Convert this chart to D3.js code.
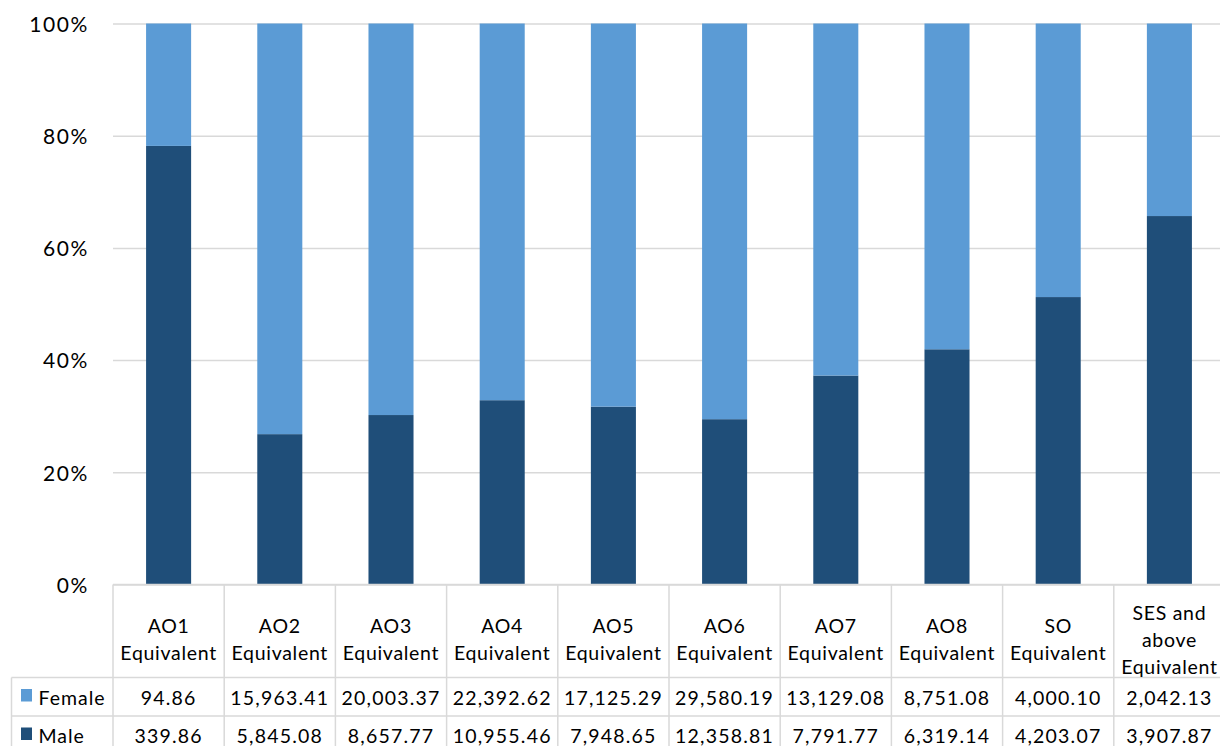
<!DOCTYPE html>
<html>
<head>
<meta charset="utf-8">
<script src="https://cdn.jsdelivr.net/npm/d3@7"></script>
<style>
  html, body { margin: 0; padding: 0; background: #fff; }
  svg { display: block; font-family: Lato, "Open Sans", sans-serif; }
</style>
</head>
<body>
<svg id="chart" width="1220" height="746"></svg>
<script>
const categories = [
  ["AO1", "Equivalent"], ["AO2", "Equivalent"], ["AO3", "Equivalent"],
  ["AO4", "Equivalent"], ["AO5", "Equivalent"], ["AO6", "Equivalent"],
  ["AO7", "Equivalent"], ["AO8", "Equivalent"], ["SO", "Equivalent"],
  ["SES and", "above", "Equivalent"]
];
const female = [94.86, 15963.41, 20003.37, 22392.62, 17125.29, 29580.19, 13129.08, 8751.08, 4000.10, 2042.13];
const male   = [339.86, 5845.08, 8657.77, 10955.46, 7948.65, 12358.81, 7791.77, 6319.14, 4203.07, 3907.87];
const seriesNames = ["Female", "Male"];
const yTicks = [0, 0.2, 0.4, 0.6, 0.8, 1.0];

(function () {
const colors = { Female: "#5B9BD5", Male: "#1F4E79" };
const gridColor = "#D9D9D9";

const svg = d3.select("#chart");
const pLeft = 113, pRight = 1225, pTop = 23.5, pBottom = 584.5;

const ids = categories.map((c, i) => i);
const x = d3.scaleBand().domain(ids).range([pLeft, pRight]).padding(0);
const y = d3.scaleLinear().domain([0, 1]).range([pBottom, pTop]);
const barW = x.bandwidth() * 0.405;

// gridlines + y labels
const yAxis = d3.axisLeft(y).tickValues(yTicks).tickSize(-(pRight - pLeft)).tickFormat(d3.format(".0%"));
const ga = svg.append("g").attr("transform", `translate(${pLeft},0)`).call(yAxis);
ga.select(".domain").remove();
ga.selectAll(".tick line").attr("stroke", gridColor).attr("stroke-width", 1.5);
ga.selectAll(".tick text").attr("x", -24).attr("dy", "0.37em")
  .attr("font-size", 21).attr("letter-spacing", 1.6).attr("fill", "#000")
  .attr("font-family", "Lato, 'Open Sans', sans-serif");

// stacked data (100%)
const rows = ids.map(i => ({ i, Female: female[i], Male: male[i] }));
const stack = d3.stack().keys(["Male", "Female"]).offset(d3.stackOffsetExpand);
const stacked = stack(rows);

svg.append("g").selectAll("g").data(stacked).join("g")
  .attr("fill", d => colors[d.key])
  .selectAll("rect").data(d => d).join("rect")
  .attr("x", d => x(d.data.i) + (x.bandwidth() - barW) / 2)
  .attr("width", barW)
  .attr("y", d => y(d[1]))
  .attr("height", d => y(d[0]) - y(d[1]));

// data table
const rowTop = 677.5, rowMid = 716, rowBot = 760, tableLeft = 11.5;
const tg = svg.append("g").attr("stroke", gridColor).attr("stroke-width", 1.5).attr("fill", "none");
tg.append("line").attr("x1", pLeft).attr("x2", pRight).attr("y1", pBottom).attr("y2", pBottom);
[rowTop, rowMid].forEach(yy => tg.append("line").attr("x1", tableLeft).attr("x2", pRight).attr("y1", yy).attr("y2", yy));
tg.append("line").attr("x1", tableLeft).attr("x2", tableLeft).attr("y1", rowTop).attr("y2", rowBot);
ids.forEach(i => {
  const xx = x(i);
  tg.append("line").attr("x1", xx).attr("x2", xx).attr("y1", pBottom).attr("y2", rowBot);
});
tg.append("line").attr("x1", pRight).attr("x2", pRight).attr("y1", pBottom).attr("y2", rowBot);

// header labels
const lineH = 27;
const headerMid = 639.5;
const hg = svg.append("g").attr("font-size", 19.5).attr("fill", "#000").attr("text-anchor", "middle").attr("letter-spacing", 0.7);
categories.forEach((lines, i) => {
  const cx = x(i) + x.bandwidth() / 2;
  const first = headerMid - (lines.length - 1) * lineH / 2 + 7;
  const t = hg.append("text");
  lines.forEach((ln, k) => {
    t.append("tspan").attr("x", cx).attr("y", first + k * lineH).text(ln);
  });
});

// row values
const fmt = d3.format(",.2f");
const seriesData = { Female: female, Male: male };
const rowBase = { Female: 704.5, Male: 743 };
const vg = svg.append("g").attr("font-size", 19.5).attr("fill", "#000");
seriesNames.forEach(name => {
  vg.append("rect").attr("x", 21).attr("y", rowBase[name] - 15.5).attr("width", 11).attr("height", 12.5)
    .attr("fill", colors[name]);
  vg.append("text").attr("x", 38.5).attr("y", rowBase[name]).attr("letter-spacing", 1).text(name);
  seriesData[name].forEach((v, i) => {
    vg.append("text").attr("x", x(i) + x.bandwidth() / 2).attr("y", rowBase[name])
      .attr("text-anchor", "middle").attr("letter-spacing", 1.2).text(fmt(v));
  });
});
})();
</script>
</body>
</html>
